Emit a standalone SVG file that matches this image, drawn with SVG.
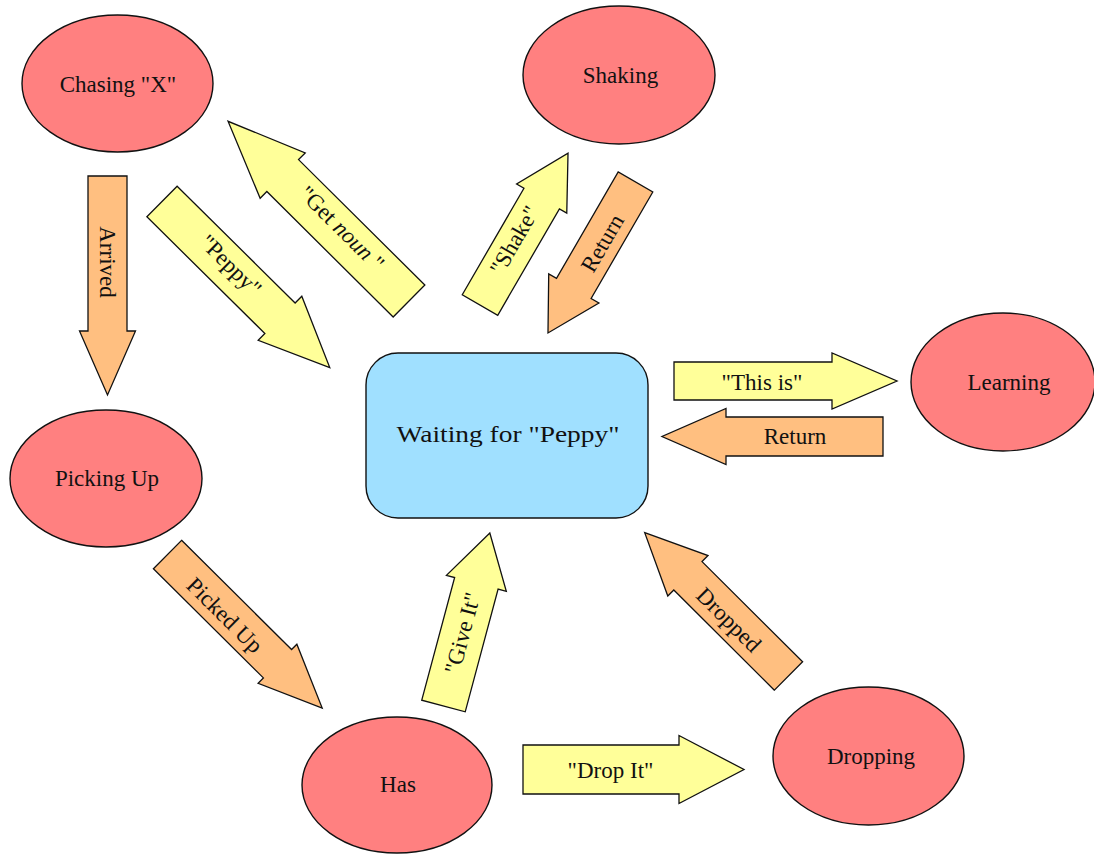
<svg xmlns="http://www.w3.org/2000/svg" width="1094" height="854" viewBox="0 0 1094 854">
  <style>
    .state { fill: #FF8080; stroke: #111; stroke-width: 1.4; }
    .hub { fill: #A0E0FF; stroke: #111; stroke-width: 1.4; }
    .go { fill: #FFFF99; stroke: #111; stroke-width: 1.3; stroke-linejoin: miter; }
    .back { fill: #FFBF80; stroke: #111; stroke-width: 1.3; stroke-linejoin: miter; }
    text { font-family: "Liberation Serif", "Times New Roman", serif; font-size: 23px; fill: #111; text-anchor: middle; }
  </style>

  <!-- transitions: block arrows drawn along +x, then placed with translate/rotate -->
  <g id="connectors">
    <g id="arrived">
      <polygon class="back" transform="translate(107.5,176) rotate(90)" points="0,-19.5 155,-19.5 155,-28 219,0 155,28 155,19.5 0,19.5"/>
      <text transform="translate(108,262) rotate(90)" dy="0.35em">Arrived</text>
    </g>
    <g id="peppy">
      <polygon class="go" transform="translate(162,201.5) rotate(44.7)" points="0,-21.5 166,-21.5 166,-31 236,0 166,31 166,21.5 0,21.5"/>
      <text transform="translate(231,265) rotate(44.7)" dy="0.35em">"Peppy"</text>
    </g>
    <g id="get-noun">
      <polygon class="go" transform="translate(409,301) rotate(224.8)" points="0,-22.5 178,-22.5 178,-32 255,0 178,32 178,22.5 0,22.5"/>
      <text transform="translate(342,228) rotate(44.8)" dy="0.35em">"Get <tspan font-style="italic">noun</tspan> "</text>
    </g>
    <g id="shake">
      <polygon class="go" transform="translate(480,305) rotate(-59.9)" points="0,-20.5 123,-20.5 123,-29 175.5,0 123,29 123,20.5 0,20.5"/>
      <text transform="translate(514,240) rotate(-60)" dy="0.35em">"Shake"</text>
    </g>
    <g id="return-shaking">
      <polygon class="back" transform="translate(635.5,182) rotate(120.1)" points="0,-20 123,-20 123,-29 174.5,0 123,29 123,20 0,20"/>
      <text transform="translate(602,243) rotate(-59.9)" dy="0.35em">Return</text>
    </g>
    <g id="this-is">
      <polygon class="go" transform="translate(674,381)" points="0,-19 158,-19 158,-28 223,0 158,28 158,19 0,19"/>
      <text x="762" y="390">"This is"</text>
    </g>
    <g id="return-learning">
      <polygon class="back" transform="translate(883,436.5) rotate(180)" points="0,-19.5 157,-19.5 157,-28 221,0 157,28 157,19.5 0,19.5"/>
      <text x="795" y="444">Return</text>
    </g>
    <g id="picked-up">
      <polygon class="back" transform="translate(167.5,554.5) rotate(44.8)" points="0,-20 155,-20 155,-27.5 218,0 155,27.5 155,20 0,20"/>
      <text transform="translate(225,615) rotate(44.8)" dy="0.35em">Picked Up</text>
    </g>
    <g id="give-it">
      <polygon class="go" transform="translate(443.5,706) rotate(-75)" points="0,-22.5 127,-22.5 127,-31 179,0 127,31 127,22.5 0,22.5"/>
      <text transform="translate(462,633) rotate(-75)" dy="0.35em">"Give It"</text>
    </g>
    <g id="dropped">
      <polygon class="back" transform="translate(788.5,676) rotate(224.9)" points="0,-20 142,-20 142,-28.5 203,0 142,28.5 142,20 0,20"/>
      <text transform="translate(729,619.5) rotate(44.9)" dy="0.35em">Dropped</text>
    </g>
    <g id="drop-it">
      <polygon class="go" transform="translate(523,769.5)" points="0,-24.5 156,-24.5 156,-34 221,0 156,34 156,24.5 0,24.5"/>
      <text x="610.5" y="778">"Drop It"</text>
    </g>
  </g>

  <!-- states -->
  <g id="waiting">
    <rect class="hub" x="366" y="353" width="282" height="165" rx="32" ry="32"/>
    <text x="508" y="442" textLength="223" lengthAdjust="spacingAndGlyphs" font-size="24">Waiting for "Peppy"</text>
  </g>
  <g id="chasing">
    <ellipse class="state" cx="117.5" cy="83.5" rx="95.5" ry="68.5"/>
    <text x="118" y="92">Chasing "X"</text>
  </g>
  <g id="shaking">
    <ellipse class="state" cx="619" cy="75" rx="96" ry="69"/>
    <text x="620.5" y="83">Shaking</text>
  </g>
  <g id="learning">
    <ellipse class="state" cx="1003" cy="382" rx="92" ry="69"/>
    <text x="1009" y="390">Learning</text>
  </g>
  <g id="picking-up">
    <ellipse class="state" cx="106" cy="478.5" rx="96" ry="68.5"/>
    <text x="107" y="486">Picking Up</text>
  </g>
  <g id="has">
    <ellipse class="state" cx="397" cy="785" rx="95" ry="68"/>
    <text x="398" y="792">Has</text>
  </g>
  <g id="dropping">
    <ellipse class="state" cx="868.5" cy="756" rx="95.5" ry="69"/>
    <text x="871" y="764">Dropping</text>
  </g>
</svg>
